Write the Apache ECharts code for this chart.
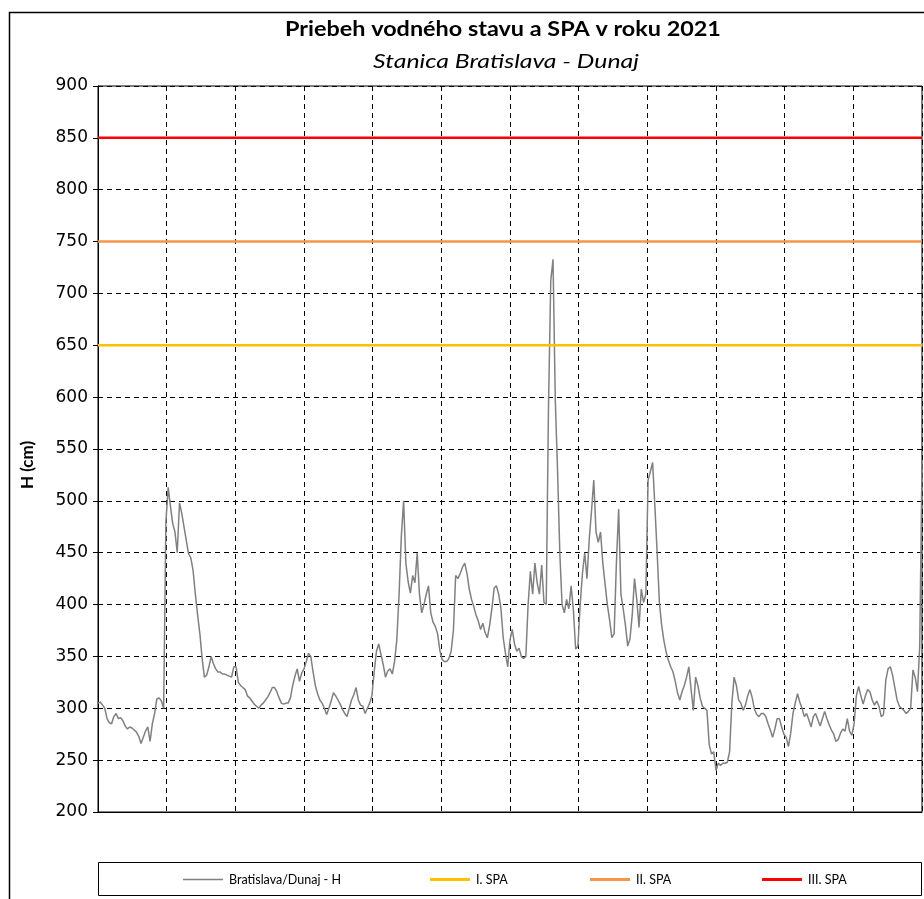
<!DOCTYPE html>
<html>
<head>
<meta charset="utf-8">
<script src="https://cdn.jsdelivr.net/npm/echarts@6/dist/echarts.min.js"></script>
<style>
html,body{margin:0;padding:0;background:#fff;}
#chart{width:924px;height:899px;}
</style>
</head>
<body>
<div id="chart"></div>
<script>
// Daily water level H (cm), Bratislava - Dunaj, 2021 (day 0 = 1 Jan)
const hValues = [
305,306,303,300,290,286,285,292,295,290,
291,288,283,280,282,281,279,277,273,266,
272,278,282,268,285,295,309,310,307,300,
480,513,495,478,470,450,498,488,475,462,
449,445,433,410,390,372,348,330,332,340,
350,343,338,335,335,333,333,332,331,330,
340,340,325,322,320,318,312,310,307,304,
302,300,303,305,308,311,315,320,320,316,
310,305,304,305,305,310,322,331,338,326,
334,338,345,353,350,335,322,314,308,305,
300,294,300,307,315,312,308,304,299,295,
292,300,308,313,320,308,303,302,295,300,
305,312,335,355,362,352,342,330,336,338,
333,345,366,410,466,500,440,422,411,428,
421,450,410,392,400,410,418,392,383,379,
372,356,347,345,345,348,355,375,428,425,
430,436,440,430,415,405,398,390,384,376,
382,373,368,380,396,416,418,410,396,368,
353,340,366,376,362,355,358,350,348,350,
400,432,410,440,421,410,438,402,400,590,
712,733,598,530,450,400,392,405,396,418,
395,357,360,400,430,450,425,463,490,520,
470,460,470,440,420,400,385,368,372,440,
492,410,396,380,360,367,390,425,405,378,
415,402,410,520,528,537,495,450,402,380,
365,354,346,340,335,326,315,308,316,322,
330,340,318,298,330,322,310,302,300,298,
265,256,258,240,247,245,247,247,248,258,
305,330,322,308,305,298,303,312,318,310,
299,294,292,295,295,292,285,279,272,280,
290,290,282,275,272,263,276,295,305,314,
306,300,292,295,289,282,292,295,289,283,
290,297,290,284,279,275,268,270,276,280,
278,290,278,274,285,312,321,312,304,312,
318,316,308,303,307,302,292,294,327,338,
340,332,320,308,302,300,298,295,297,300,
337,330,316,360,537
];
const seriesNames = ['Bratislava/Dunaj - H', 'I. SPA', 'II. SPA', 'III. SPA'];
const spaLevels = [650, 750, 850];
const spaColors = ['#FFC000', '#F79646', '#FF0000'];
const yTicks = { min: 200, max: 900, step: 50 };
const titleText = 'Priebeh vodného stavu a SPA v roku 2021';
const subtitleText = 'Stanica Bratislava - Dunaj';
const yName = 'H (cm)';

const lastDay = hValues.length - 1;
const font = 'Lato, "Open Sans", sans-serif';
const labelFont = '"DejaVu Sans", sans-serif';

const chart = echarts.init(document.getElementById('chart'), null, {renderer: 'canvas'});

const series = [{
  name: seriesNames[0],
  type: 'line',
  data: hValues.map((v, i) => [i, v]),
  showSymbol: false,
  symbol: 'none',
  lineStyle: {color: '#808080', width: 1.5},
  itemStyle: {color: '#808080'},
  z: 3
}];
spaLevels.forEach((lvl, k) => {
  series.push({
    name: seriesNames[k + 1],
    type: 'line',
    data: [[0, lvl], [lastDay, lvl]],
    showSymbol: false,
    symbol: 'none',
    lineStyle: {color: spaColors[k], width: 2.5},
    itemStyle: {color: spaColors[k]},
    z: 4
  });
});

const legendPos = [183, 430, 590, 762];
const legends = seriesNames.map((n, i) => ({
  data: [n],
  left: legendPos[i],
  top: 873,
  padding: 0,
  icon: 'rect',
  itemWidth: 40,
  itemHeight: i === 0 ? 1.5 : 3,
  textStyle: {fontFamily: font, fontSize: 12.5, color: '#000', padding: [0, 0, 0, 1]},
  selectedMode: false
}));

chart.setOption({
  animation: false,
  backgroundColor: '#fff',
  legend: legends,
  grid: {left: 98, right: 2, top: 86, bottom: 87, show: true, borderColor: '#000', borderWidth: 1, containLabel: false},
  xAxis: {
    type: 'value', min: 0, max: lastDay, interval: lastDay / 12,
    axisLabel: {show: false}, axisTick: {show: false},
    axisLine: {show: true, lineStyle: {color: '#000', width: 1}},
    splitLine: {show: true, lineStyle: {color: '#000', type: [5, 4], width: 1}}
  },
  yAxis: {
    type: 'value', min: yTicks.min, max: yTicks.max, interval: yTicks.step,
    name: yName, nameLocation: 'middle', nameGap: 62, nameRotate: 90,
    nameTextStyle: {fontFamily: font, fontWeight: 'bold', fontSize: 17, color: '#000', padding: [0, 0, 0, -32]},
    axisLine: {show: true, lineStyle: {color: '#000', width: 1}},
    axisTick: {show: true, inside: false, length: 5, lineStyle: {color: '#000'}},
    axisLabel: {fontFamily: labelFont, fontSize: 17, color: '#000', margin: 10},
    splitLine: {show: true, lineStyle: {color: '#000', type: [5, 4], width: 1}}
  },
  graphic: [{
    type: 'rect', left: 7, top: 10, silent: true,
    shape: {x: 0, y: 0, width: 1000, height: 1000},
    style: {fill: 'none', stroke: '#000', lineWidth: 1.5}
  }, {
    type: 'rect', silent: true,
    shape: {x: 98.5, y: 862.5, width: 823, height: 33},
    style: {fill: 'none', stroke: '#000', lineWidth: 1}
  }, {
    type: 'text', x: 503, y: 30, scaleX: 1.17, silent: true,
    style: {text: titleText, fontFamily: font, fontWeight: 'bold', fontSize: 20, fill: '#000',
            align: 'center', verticalAlign: 'middle'}
  }, {
    type: 'text', x: 506, y: 62, scaleX: 1.24, silent: true,
    style: {text: subtitleText, fontFamily: font, fontStyle: 'italic', fontSize: 20, fill: '#000',
            align: 'center', verticalAlign: 'middle'}
  }],
  series: series
});
</script>
</body>
</html>
